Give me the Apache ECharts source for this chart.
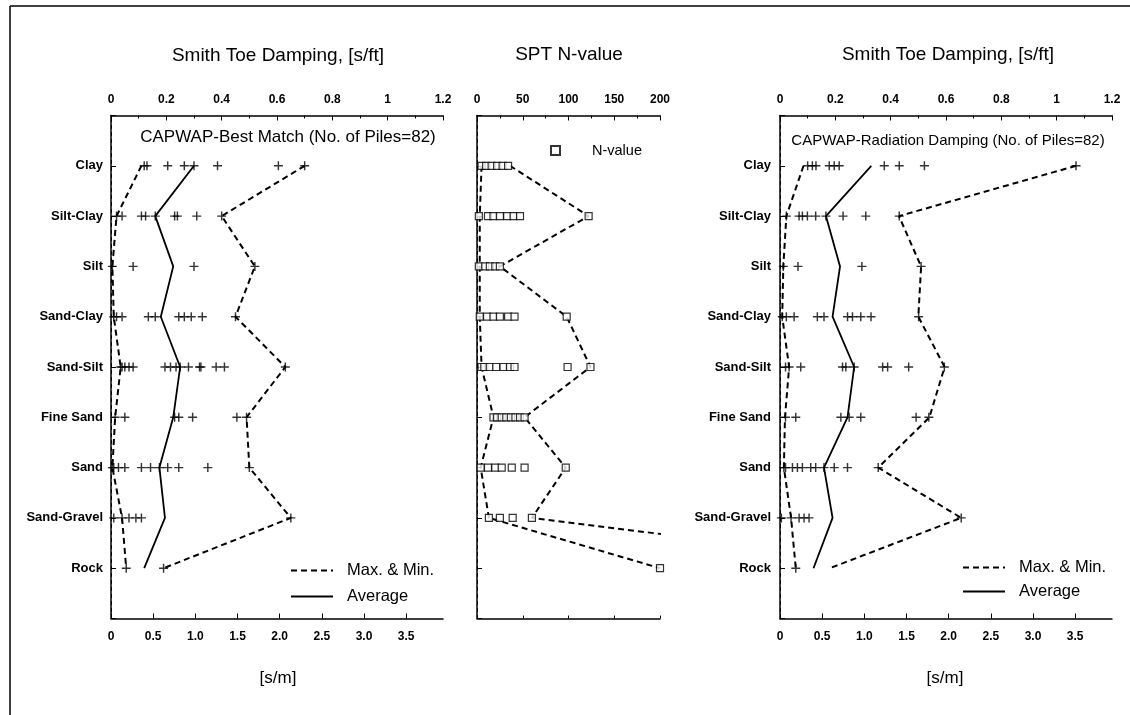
<!DOCTYPE html>
<html><head><meta charset="utf-8">
<script src="https://cdn.jsdelivr.net/npm/echarts@6/dist/echarts.min.js"></script>
<style>html,body{margin:0;padding:0;background:#fff}#c{width:1130px;height:715px}</style>
</head><body><div id="c"></div>
<script>
// ---------- data ----------
const categories = ['Clay','Silt-Clay','Silt','Sand-Clay','Sand-Silt','Fine Sand','Sand','Sand-Gravel','Rock'];

// CAPWAP - Best Match, Smith toe damping [s/ft]
const bestMax = [0.70, 0.40, 0.52, 0.45, 0.63, 0.49, 0.50, 0.65, 0.19];
const bestMin = [0.11, 0.02, 0.005, 0.01, 0.035, 0.015, 0.005, 0.04, 0.055];
const bestAvg = [0.30, 0.16, 0.225, 0.18, 0.25, 0.225, 0.175, 0.195, 0.12];
const bestPoints = [
  [0.12, 0.13, 0.205, 0.265, 0.30, 0.385, 0.605, 0.70],
  [0.02, 0.04, 0.11, 0.125, 0.16, 0.23, 0.24, 0.31, 0.40],
  [0.005, 0.08, 0.30, 0.52],
  [0.01, 0.02, 0.04, 0.135, 0.16, 0.245, 0.265, 0.29, 0.33, 0.45],
  [0.035, 0.04, 0.05, 0.065, 0.08, 0.195, 0.215, 0.235, 0.25, 0.28, 0.32, 0.325, 0.38, 0.41, 0.63],
  [0.015, 0.05, 0.23, 0.245, 0.295, 0.455, 0.49],
  [0.005, 0.01, 0.027, 0.05, 0.11, 0.143, 0.175, 0.205, 0.245, 0.35, 0.50],
  [0.01, 0.04, 0.065, 0.09, 0.11, 0.65],
  [0.055, 0.19]
];

// CAPWAP - Radiation Damping, Smith toe damping [s/ft]
const radMax = [1.07, 0.43, 0.51, 0.50, 0.595, 0.54, 0.355, 0.655, 0.18];
const radMin = [0.085, 0.023, 0.012, 0.008, 0.033, 0.018, 0.014, 0.04, 0.057];
const radAvg = [0.33, 0.166, 0.217, 0.19, 0.268, 0.244, 0.159, 0.19, 0.121];
const radPoints = [
  [0.10, 0.117, 0.13, 0.178, 0.196, 0.214, 0.377, 0.431, 0.522, 1.07],
  [0.023, 0.069, 0.081, 0.099, 0.129, 0.166, 0.228, 0.31, 0.431],
  [0.012, 0.065, 0.296, 0.51],
  [0.008, 0.023, 0.051, 0.135, 0.159, 0.244, 0.262, 0.292, 0.329, 0.501],
  [0.02, 0.033, 0.075, 0.226, 0.238, 0.268, 0.371, 0.389, 0.465, 0.594],
  [0.02, 0.057, 0.22, 0.25, 0.292, 0.492, 0.538],
  [0.014, 0.02, 0.045, 0.063, 0.081, 0.111, 0.129, 0.159, 0.196, 0.244, 0.355],
  [0.005, 0.04, 0.069, 0.087, 0.105, 0.655],
  [0.057]
];

// SPT N-value
const nMax = [36, 122, 25, 98, 124, 52, 97, 60, 500];
const nMin = [5, 3, 3, 3, 5, 18, 4, 13, 200];
const nPoints = [
  [5, 10, 16, 22, 28, 34],
  [2, 12, 18, 25, 33, 40, 47, 122],
  [2, 9, 14, 20, 25],
  [3, 11, 18, 25, 34, 41, 98],
  [5, 8, 14, 21, 29, 36, 41, 99, 124],
  [18, 22, 27, 32, 37, 42, 47, 52],
  [4, 12, 20, 27, 38, 52, 97],
  [13, 25, 39, 60],
  [200]
];

const sftTickMax = 1.2;           // s/ft axis max
const sftToSm = 3.2808;           // 1 s/ft = 3.2808 s/m
const nTickMax = 200;

// ---------- helpers ----------
const FONT = 'Liberation Sans';
const asLine = vals => vals.map((v, i) => [v, i + 1]);
const asPoints = groups => groups.flatMap((g, i) => g.map(v => [v, i + 1]));
const PLUS = 'path://M4.2,0H5.8V10H4.2Z M0,4.2H10V5.8H0Z';

function catAxis(gi, showLabels, margin) {
  return {
    type: 'category', gridIndex: gi, data: ['', ...categories, ''], boundaryGap: false, inverse: true,
    axisLine: { show: true, lineStyle: { color: '#000', width: 1.5 } },
    axisTick: { show: true, inside: true, length: 5, interval: 0, lineStyle: { color: '#000' } },
    axisLabel: { show: showLabels, interval: 0, margin: margin, color: '#000', fontFamily: FONT, fontWeight: 'bold', fontSize: 13 },
    splitLine: { show: false }
  };
}
function borderAxis(gi) {
  return {
    type: 'value', gridIndex: gi, position: 'right', min: 0, max: 1,
    axisLine: { show: true, lineStyle: { color: '#000', width: 1, type: [3, 4] } },
    axisTick: { show: false }, axisLabel: { show: false }, splitLine: { show: false }
  };
}
function topAxis(gi, max, interval) {
  return {
    type: 'value', gridIndex: gi, position: 'top', min: 0, max: max, interval: interval,
    axisLine: { show: true, onZero: false, lineStyle: { color: '#000', width: 1.5 } },
    axisTick: { show: true, inside: true, length: 5, lineStyle: { color: '#000' } },
    minorTick: { show: true, splitNumber: 2, length: 3, lineStyle: { color: '#000' } },
    axisLabel: { margin: 10, color: '#000', fontFamily: FONT, fontWeight: 'bold', fontSize: 12 },
    splitLine: { show: false }
  };
}
function bottomSmAxis(gi) {
  return {
    type: 'value', gridIndex: gi, position: 'bottom', min: 0, max: sftTickMax * sftToSm, interval: 0.5,
    axisLine: { show: true, onZero: false, lineStyle: { color: '#000', width: 1.5 } },
    axisTick: { show: true, inside: true, length: 5, lineStyle: { color: '#000' } },
    axisLabel: {
      margin: 12, color: '#000', fontFamily: FONT, fontWeight: 'bold', fontSize: 12, showMaxLabel: false,
      formatter: v => (Math.abs(v * 2 - Math.round(v * 2)) > 1e-6) ? '' : (v === 0 ? '0' : v.toFixed(1))
    },
    splitLine: { show: false }
  };
}
function lineSeries(name, vals, xi, yi, dashed) {
  return {
    type: 'line', name: name, xAxisIndex: xi, yAxisIndex: yi, data: asLine(vals), symbol: 'none',
    lineStyle: { color: '#000', width: dashed ? 2 : 1.8, type: dashed ? [6, 4] : 'solid' },
    itemStyle: { color: '#000' }, z: 3, silent: true
  };
}
function plusSeries(groups, xi, yi) {
  return {
    type: 'scatter', name: 'pts', xAxisIndex: xi, yAxisIndex: yi, data: asPoints(groups),
    symbol: PLUS, symbolSize: 9, itemStyle: { color: '#000' }, z: 4, silent: true
  };
}

const txt = (text, x, y, size) => ({
  type: 'text', x: x, y: y, silent: true,
  style: { text: text, fontSize: size, fontFamily: FONT, fill: '#000', align: 'center', verticalAlign: 'middle' }
});

const lineLegend = (left, top, gap) => ({
  orient: 'vertical', left: left, top: top, itemWidth: 42, itemHeight: 14, itemGap: gap,
  data: ['Max. & Min.', 'Average'], selectedMode: false,
  itemStyle: { opacity: 0, color: 'transparent', borderWidth: 0 },
  textStyle: { color: '#000', fontFamily: FONT, fontSize: 16.5, lineHeight: 14, padding: [0, 0, 0, 9] }
});

const option = {
  animation: false,
  backgroundColor: '#fff',
  grid: [
    { left: 111, top: 115.5, width: 332, height: 503, outerBoundsMode: 'none', containLabel: false },
    { left: 477, top: 115.5, width: 183, height: 503, outerBoundsMode: 'none', containLabel: false },
    { left: 780, top: 115.5, width: 332, height: 503, outerBoundsMode: 'none', containLabel: false }
  ],
  xAxis: [
    topAxis(0, sftTickMax, 0.2),
    bottomSmAxis(0),
    topAxis(1, nTickMax, 50),
    { type: 'value', gridIndex: 1, position: 'bottom', min: 0, max: nTickMax, interval: 50,
      axisLine: { show: true, onZero: false, lineStyle: { color: '#000', width: 1.5 } },
      axisTick: { show: true, inside: true, length: 3, lineStyle: { color: '#000' } },
      axisLabel: { show: false }, splitLine: { show: false } },
    topAxis(2, sftTickMax, 0.2),
    bottomSmAxis(2)
  ],
  yAxis: [
    catAxis(0, true, 8), borderAxis(0),
    catAxis(1, false, 8), borderAxis(1),
    catAxis(2, true, 9), borderAxis(2)
  ],
  legend: [
    lineLegend(285, 557, 9),
    lineLegend(957, 554, 7),
    { orient: 'horizontal', left: 545, top: 138, itemWidth: 9, itemHeight: 9,
      data: ['N-value'], selectedMode: false,
      textStyle: { color: '#000', fontFamily: FONT, fontSize: 14.5, padding: [0, 0, 0, 27] } }
  ],
  series: [
    plusSeries(bestPoints, 0, 0),
    lineSeries('Max. & Min.', bestMax, 0, 0, true),
    lineSeries('Max. & Min.', bestMin, 0, 0, true),
    lineSeries('Average', bestAvg, 0, 0, false),

    { type: 'scatter', name: 'N-value', xAxisIndex: 2, yAxisIndex: 2, data: asPoints(nPoints),
      symbol: 'rect', symbolSize: 7, itemStyle: { color: '#fff', borderColor: '#000', borderWidth: 1.2 }, z: 4, silent: true },
    lineSeries('N max', nMax, 2, 2, true),
    lineSeries('N min', nMin, 2, 2, true),

    plusSeries(radPoints, 4, 4),
    lineSeries('Max. & Min.', radMax, 4, 4, true),
    lineSeries('Max. & Min.', radMin, 4, 4, true),
    lineSeries('Average', radAvg, 4, 4, false)
  ],
  graphic: [
    { type: 'line', silent: true, shape: { x1: 10, y1: 6, x2: 1130, y2: 6 }, style: { stroke: '#000', lineWidth: 1.5 } },
    { type: 'line', silent: true, shape: { x1: 10, y1: 6, x2: 10, y2: 715 }, style: { stroke: '#000', lineWidth: 1.5 } },
    txt('Smith Toe Damping, [s/ft]', 278, 56, 19),
    txt('SPT N-value', 569, 55, 19),
    txt('Smith Toe Damping, [s/ft]', 948, 55, 19),
    txt('CAPWAP-Best Match (No. of Piles=82)', 288, 137, 17),
    txt('CAPWAP-Radiation Damping (No. of Piles=82)', 948, 141, 15),
    txt('[s/m]', 278, 678, 17),
    txt('[s/m]', 945, 678, 17)
  ]
};

const chart = echarts.init(document.getElementById('c'), null, { renderer: 'canvas' });
chart.setOption(option);
</script>
</body></html>
